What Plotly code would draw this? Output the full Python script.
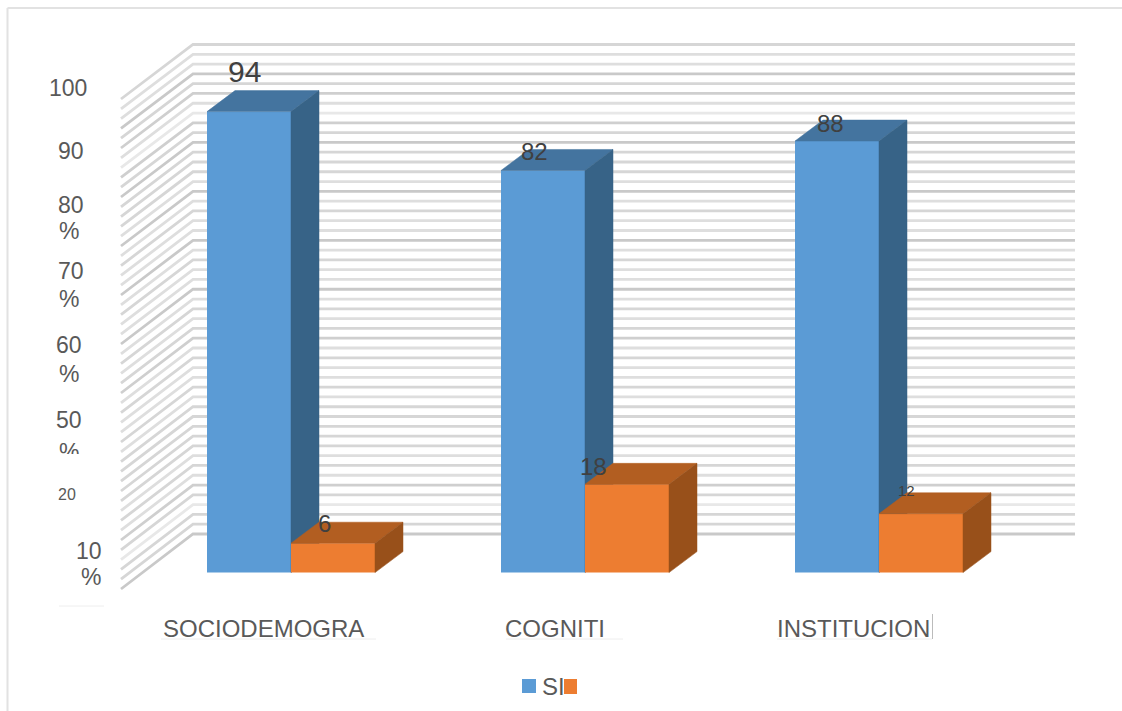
import plotly.graph_objects as go

# ---------- data ----------
categories = ["SOCIODEMOGRA", "COGNITI", "INSTITUCION"]
si_values = [94, 82, 88]
no_values = [6, 18, 12]
grid_levels = list(range(0, 101, 2))

# ---------- value-axis text (as printed in the picture) ----------
axis_texts = ["100", "90", "80", "%", "70", "%", "60", "%", "50", "%", "20", "10", "%"]
axis_text_x = [68, 71, 71, 68.5, 71, 68.5, 69, 68.5, 69, 68.5, 67, 89, 91]
axis_text_y = [88, 151, 205, 231, 271, 299, 345, 374, 420, 452, 494, 551, 577]
axis_text_size = [23, 23, 23, 23, 23, 23, 23, 23, 23, 23, 16, 23, 23]

# ---------- style / geometry ----------
W, H = 1122, 711
X0_PX, X_SCALE = 291, 294       # pixel of category 0, pixels per category
Y0_PX, Y_SCALE = 572.6, 4.904   # pixel of value 0, pixels per unit
BAR_W = 84 / X_SCALE
DX, DY = 28 / X_SCALE, 21 / Y_SCALE
x_range = [-X0_PX / X_SCALE, (W - X0_PX) / X_SCALE]
y_range = [(Y0_PX - H) / Y_SCALE, Y0_PX / Y_SCALE]

BLUE, BLUE_TOP, BLUE_SIDE = "#5B9BD5", "#44749F", "#376387"
ORANGE, ORANGE_TOP, ORANGE_SIDE = "#ED7D31", "#B25E21", "#98501A"
TEXT = "#595959"
LABEL = "#404040"
FONT = "Liberation Sans"

# grey of each grid line, level 0 upward
V, L, M, S, D = "#E8E8E8", "#DEDEDE", "#D6D6D6", "#CFCFCF", "#C9C9C9"
grid_shades = [D, M, M, V, M, S, L, M, L, M, M, M, M, M, L, M, L, L, M, L,
               S, M, L, M, L, D, L, L, M, L, D, L, L, M, L, D, L, M, M, M,
               D, M, S, V, L, S, M, D, L, L, M]

si_label_size = [30, 24, 24]
no_label_size = [24, 24, 15]
si_label_shift = [(-5, 40), (-9, 19), (-7, 18)]
no_label_shift = [(-9, 20), (-34, 18), (-15, 23)]
cat_label_shift = [-28, -30, -26]


def px(x):
    return x / W


def py(y):
    return 1 - y / H


def xd(p):
    return (p - X0_PX) / X_SCALE


def yd(p):
    return (Y0_PX - p) / Y_SCALE


fig = go.Figure()

# ---------- walls (bottom layer) ----------
wall_left, wall_back, wall_right = xd(121), xd(193), xd(1075)
for t, shade in zip(grid_levels, grid_shades):
    y_back = yd(534) + t * (534 - 44.5) / 100 / Y_SCALE
    y_front = yd(589) + t * (589 - 99) / 100 / Y_SCALE
    fig.add_trace(go.Scatter(
        x=[wall_left, wall_back, wall_right], y=[y_front, y_back, y_back],
        mode="lines", line=dict(color=shade, width=2.8), hoverinfo="skip",
        showlegend=False, xaxis="x", yaxis="y"))


def add_series(values, left_edge, width, front, top, side, name, xa, ya):
    fig.add_trace(go.Bar(
        x=list(range(len(values))), y=values, width=[width] * len(values),
        offset=[left_edge] * len(values), marker=dict(color=front, line=dict(width=0)),
        name=name, showlegend=False, xaxis=xa, yaxis=ya))
    for i, v in enumerate(values):
        l, r = i + left_edge, i + left_edge + width
        fig.add_trace(go.Scatter(
            x=[l, l + DX, r + DX, r, l], y=[v, v + DY, v + DY, v, v],
            mode="lines", fill="toself", fillcolor=top, line=dict(color=top, width=0.5),
            hoverinfo="skip", showlegend=False, xaxis=xa, yaxis=ya))
        fig.add_trace(go.Scatter(
            x=[r, r + DX, r + DX, r, r], y=[0, DY, v + DY, v, 0],
            mode="lines", fill="toself", fillcolor=side, line=dict(color=side, width=0.5),
            hoverinfo="skip", showlegend=False, xaxis=xa, yaxis=ya))


add_series(si_values, -BAR_W, BAR_W, BLUE, BLUE_TOP, BLUE_SIDE, "SI", "x2", "y2")
add_series(no_values, 0, BAR_W, ORANGE, ORANGE_TOP, ORANGE_SIDE, "NO", "x3", "y3")

annotations = []
# value-axis text
for t, x, y, s in zip(axis_texts, axis_text_x, axis_text_y, axis_text_size):
    annotations.append(dict(text=t, x=px(x), y=py(y), xref="paper", yref="paper",
                            xanchor="center", yanchor="middle", showarrow=False,
                            font=dict(family=FONT, size=s, color=TEXT)))
# category labels
for i, c in enumerate(categories):
    annotations.append(dict(text=c, x=i, xref="x", xshift=cat_label_shift[i],
                            y=py(628), yref="paper", xanchor="center", yanchor="middle",
                            showarrow=False, font=dict(family=FONT, size=24, color=TEXT)))
# data labels, anchored on the bars' values
for vals, centre, sizes, shifts in (
        (si_values, -BAR_W / 2, si_label_size, si_label_shift),
        (no_values, BAR_W / 2, no_label_size, no_label_shift)):
    for i, v in enumerate(vals):
        annotations.append(dict(text=str(v), x=i + centre, y=v, xref="x", yref="y",
                                xshift=shifts[i][0], yshift=shifts[i][1],
                                xanchor="center", yanchor="middle", showarrow=False,
                                font=dict(family=FONT, size=sizes[i], color=LABEL)))
# legend text
annotations.append(dict(text="SI", x=px(553), y=py(686), xref="paper", yref="paper",
                        xanchor="center", yanchor="middle", showarrow=False,
                        font=dict(family=FONT, size=24, color=TEXT)))


def paper_rect(x0, y0, x1, y1, color, layer="above"):
    return dict(type="rect", xref="paper", yref="paper", x0=px(x0), x1=px(x1),
                y0=py(y1), y1=py(y0), fillcolor=color, line=dict(width=0), layer=layer)


def paper_line(x0, y0, x1, y1, color, width=1):
    return dict(type="line", xref="paper", yref="paper", x0=px(x0), x1=px(x1),
                y0=py(y0), y1=py(y1), line=dict(color=color, width=width), layer="above")


shapes = [
    paper_line(7.5, 8, W, 8, "#E2E2E2", 2),       # chart frame, top
    paper_line(7.5, 8, 7.5, H, "#E2E2E2", 2),     # chart frame, left
    paper_line(59, 606, 104, 606, "#EEEEEE"),
    paper_line(161, 639, 376, 639, "#EEEEEE"),
    paper_line(506, 639, 623, 639, "#EEEEEE"),
    paper_line(777, 639, 932, 639, "#EEEEEE"),
    paper_line(932.5, 614, 932.5, 639, "#BBBBBB"),
    paper_rect(522, 679, 536, 693, BLUE),
    paper_rect(564, 679, 577, 694, ORANGE),
]

axis_common = dict(visible=False, showgrid=False, zeroline=False, fixedrange=True)
fig.update_layout(
    width=W, height=H, margin=dict(l=0, r=0, t=0, b=0, pad=0),
    paper_bgcolor="white", plot_bgcolor="white", showlegend=False,
    xaxis=dict(range=x_range, **axis_common),
    yaxis=dict(range=y_range, **axis_common),
    xaxis2=dict(range=x_range, overlaying="x", **axis_common),
    yaxis2=dict(range=y_range, overlaying="y", **axis_common),
    xaxis3=dict(range=x_range, overlaying="x", **axis_common),
    yaxis3=dict(range=y_range, overlaying="y", **axis_common),
    annotations=annotations, shapes=shapes,
)

# the reference cuts the "%" under 50 off at its lower part
clip_script = """
document.body.style.margin='0';
var gd = document.querySelector('.plotly-graph-div');
gd.querySelectorAll('.annotation').forEach(function (a) {
  var t = a.querySelector('text');
  if (t && t.textContent === '%') {
    var b = t.getBoundingClientRect();
    if (b.top < 454 && b.bottom > 454) {
      var r = document.createElementNS('http://www.w3.org/2000/svg', 'rect');
      r.setAttribute('x', b.left - 2); r.setAttribute('y', 454);
      r.setAttribute('width', b.width + 4); r.setAttribute('height', b.bottom - 454 + 4);
      r.setAttribute('fill', 'white');
      a.parentNode.appendChild(r);
    }
  }
});
"""
fig.write_html("out.html", post_script=clip_script, config=dict(displayModeBar=False))
